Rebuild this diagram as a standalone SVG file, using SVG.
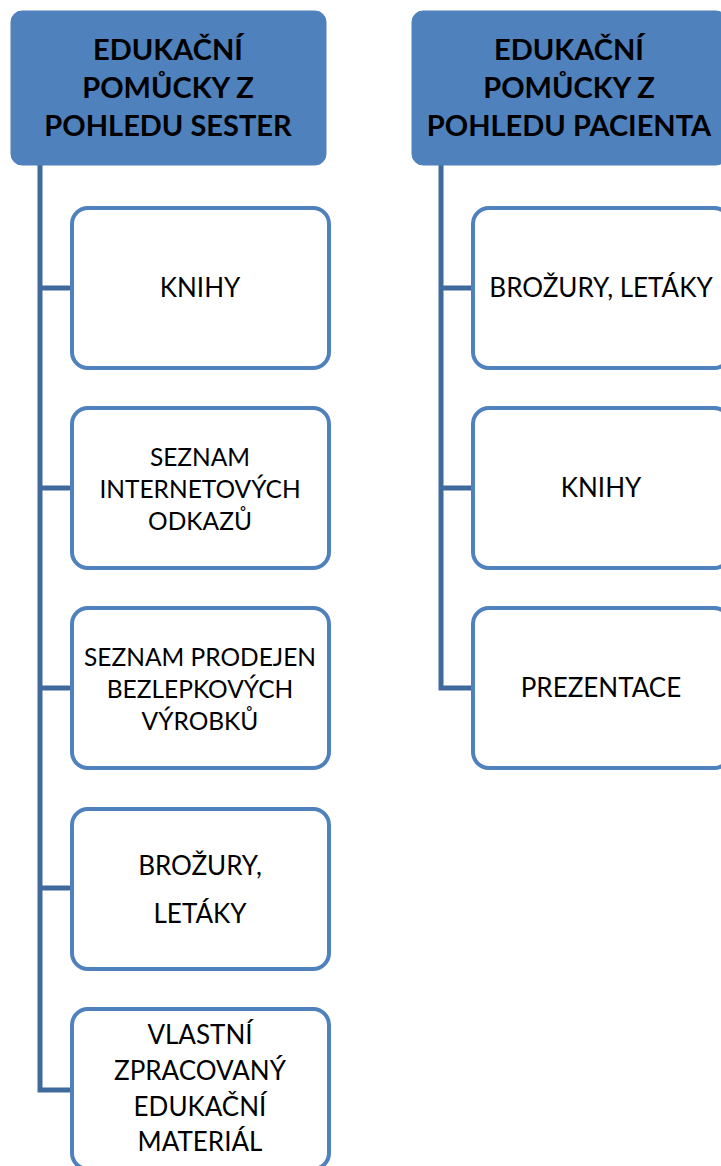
<svg xmlns="http://www.w3.org/2000/svg" width="721" height="1166" viewBox="0 0 721 1166">
  <style>
    .head { fill: #4F81BD; stroke: #4F81BD; stroke-width: 1; }
    .item { fill: #FFFFFF; stroke: #4F81BD; stroke-width: 4; }
    .conn { fill: none; stroke: #40699C; stroke-width: 5; stroke-linejoin: miter; }
    .ht { font-family: Lato, "Liberation Sans", sans-serif; font-weight: bold; font-size: 29px; fill: #000; text-anchor: middle; }
    .it { font-family: Lato, "Liberation Sans", sans-serif; font-size: 26px; fill: #000; text-anchor: middle; }
    .its { font-family: Lato, "Liberation Sans", sans-serif; font-size: 24.5px; fill: #000; text-anchor: middle; }
  </style>
  <rect width="721" height="1166" fill="#FFFFFF"/>

  <!-- connectors: vertical spines with branches into each item -->
  <g id="connectors">
    <path class="conn" d="M40,165 V1090 H72 M40,288 H72 M40,488 H72 M40,688 H72 M40,888 H72"/>
    <path class="conn" d="M441,165 V688 H473 M441,288 H473 M441,488 H473"/>
  </g>

  <!-- left column -->
  <g id="head-sester">
    <rect class="head" x="11" y="11" width="315" height="154" rx="11"/>
    <text class="ht" x="168" y="60">EDUKAČNÍ</text>
    <text class="ht" x="168" y="98">POMŮCKY Z</text>
    <text class="ht" x="168" y="136">POHLEDU SESTER</text>
  </g>
  <g id="s-knihy">
    <rect class="item" x="72" y="208" width="257" height="160" rx="16"/>
    <text class="it" x="200" y="297">KNIHY</text>
  </g>
  <g id="s-odkazy">
    <rect class="item" x="72" y="408" width="257" height="160" rx="16"/>
    <text class="its" x="200" y="466">SEZNAM</text>
    <text class="its" x="200" y="498">INTERNETOVÝCH</text>
    <text class="its" x="200" y="530">ODKAZŮ</text>
  </g>
  <g id="s-prodejny">
    <rect class="item" x="72" y="608" width="257" height="160" rx="16"/>
    <text class="its" x="200" y="666">SEZNAM PRODEJEN</text>
    <text class="its" x="200" y="698">BEZLEPKOVÝCH</text>
    <text class="its" x="200" y="730">VÝROBKŮ</text>
  </g>
  <g id="s-brozury">
    <rect class="item" x="72" y="809" width="257" height="160" rx="16"/>
    <text class="it" x="200" y="875">BROŽURY,</text>
    <text class="it" x="200" y="923">LETÁKY</text>
  </g>
  <g id="s-material">
    <rect class="item" x="72" y="1009" width="257" height="160" rx="16"/>
    <text class="it" x="200" y="1044">VLASTNÍ</text>
    <text class="it" x="200" y="1080">ZPRACOVANÝ</text>
    <text class="it" x="200" y="1116">EDUKAČNÍ</text>
    <text class="it" x="200" y="1151">MATERIÁL</text>
  </g>

  <!-- right column -->
  <g id="head-pacient">
    <rect class="head" x="412" y="11" width="315" height="154" rx="11"/>
    <text class="ht" x="569" y="60">EDUKAČNÍ</text>
    <text class="ht" x="569" y="98">POMŮCKY Z</text>
    <text class="ht" x="569" y="136">POHLEDU PACIENTA</text>
  </g>
  <g id="p-brozury">
    <rect class="item" x="473" y="208" width="257" height="160" rx="16"/>
    <text class="it" x="601" y="297">BROŽURY, LETÁKY</text>
  </g>
  <g id="p-knihy">
    <rect class="item" x="473" y="408" width="257" height="160" rx="16"/>
    <text class="it" x="601" y="497">KNIHY</text>
  </g>
  <g id="p-prezentace">
    <rect class="item" x="473" y="608" width="257" height="160" rx="16"/>
    <text class="it" x="601" y="697">PREZENTACE</text>
  </g>
</svg>
